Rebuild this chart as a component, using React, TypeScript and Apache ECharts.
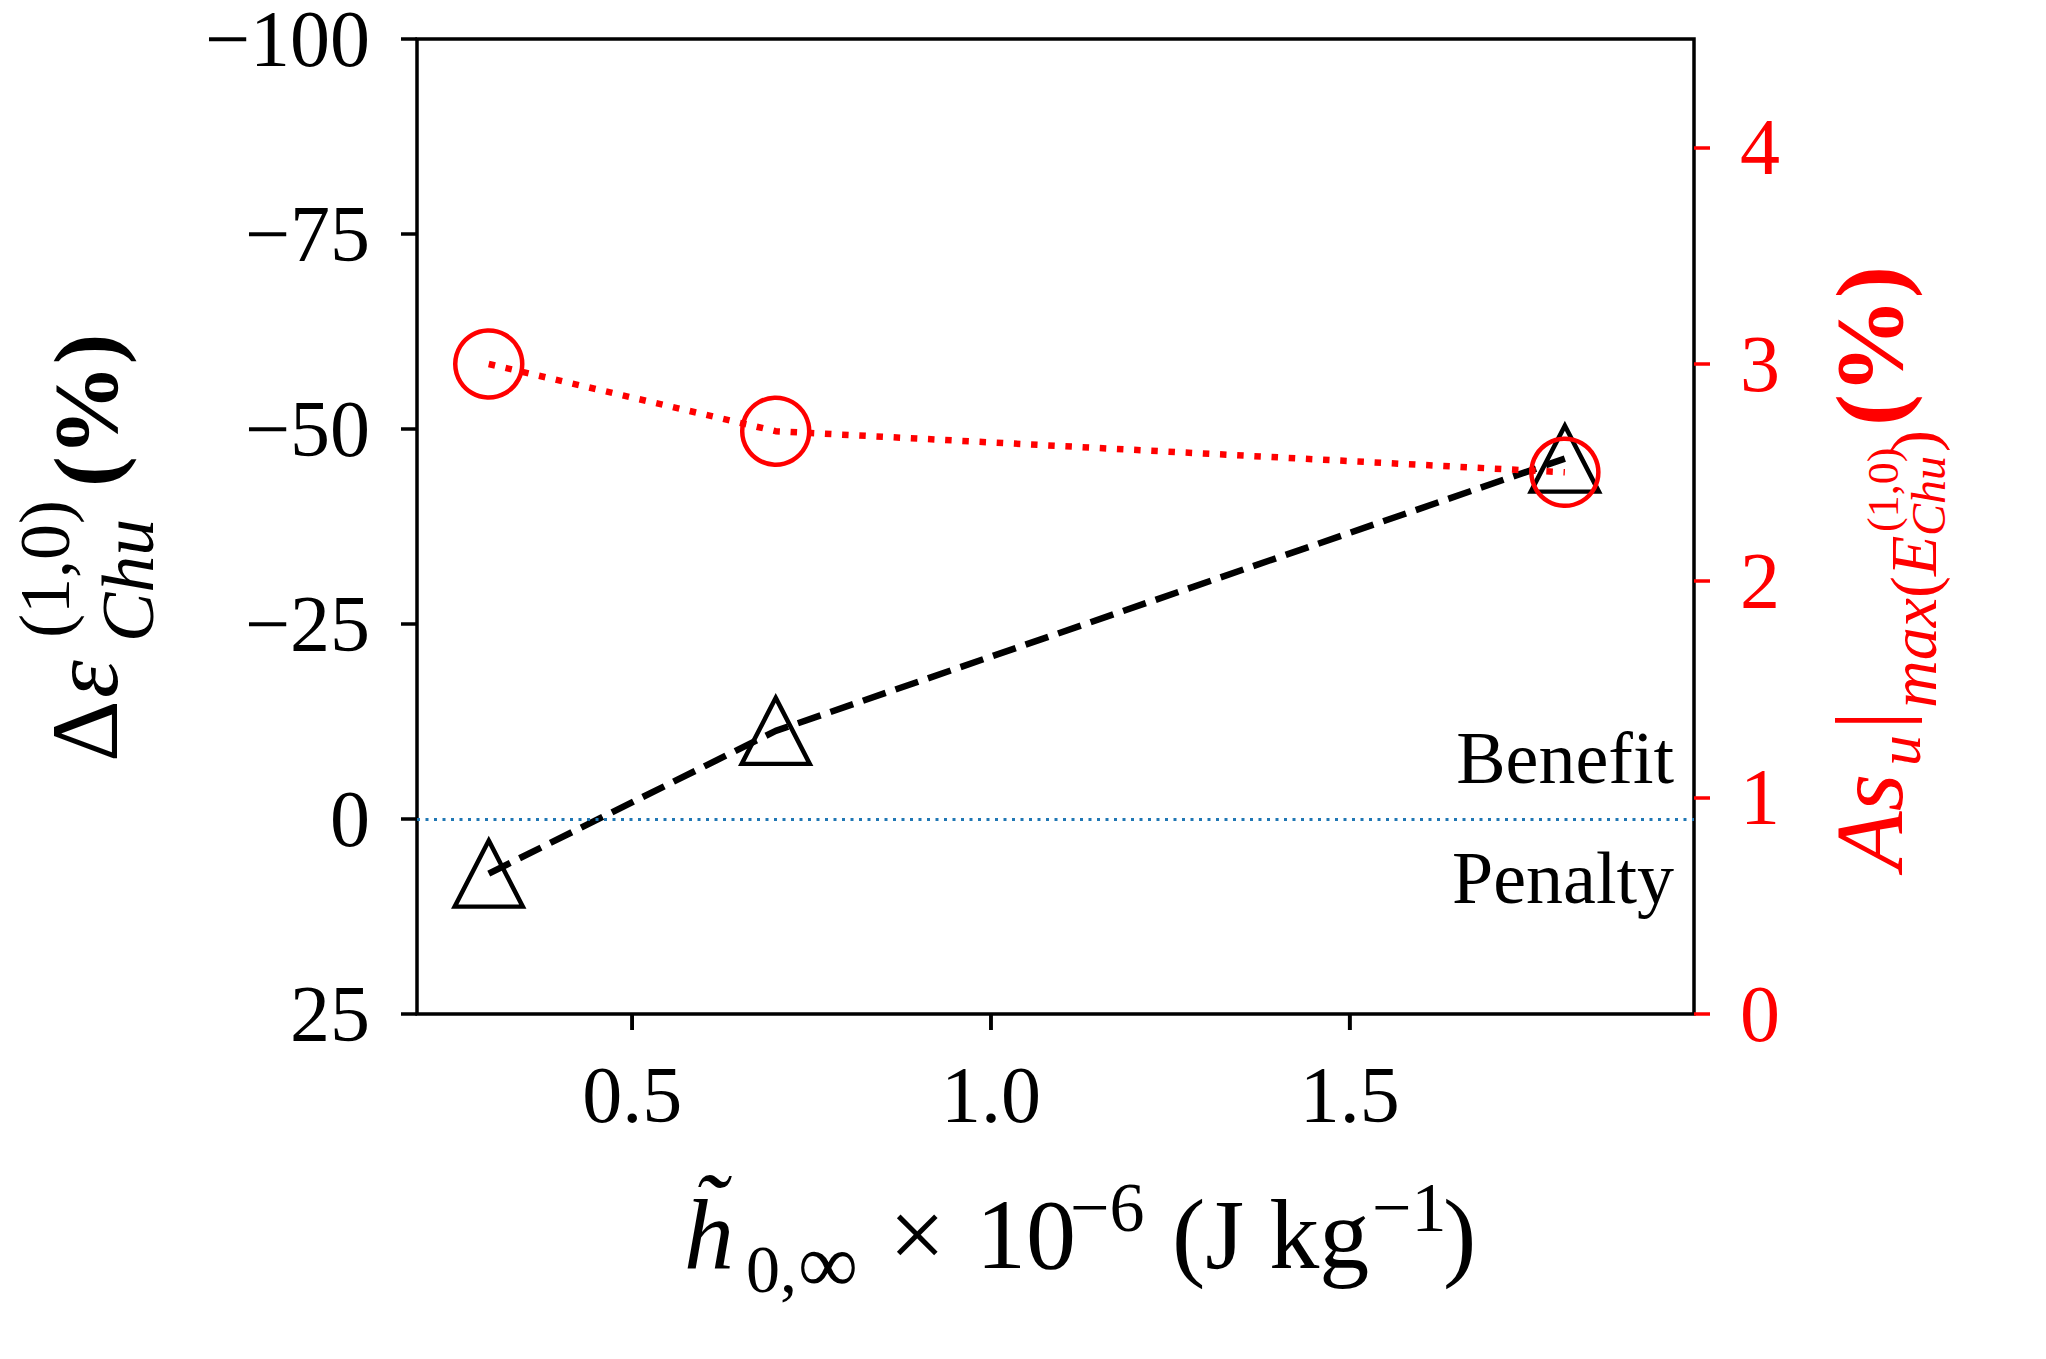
import { useEffect, useRef } from "react";
import * as echarts from "echarts";

// data
const xValues = [0.3, 0.7, 1.8];
const deltaEpsilon = [7.0, -11.3, -46.2];
const asuMax = [3.0, 2.69, 2.5];
const xTickValues = [0.5, 1.0, 1.5];
const rightTickValues = [0, 1, 2, 3, 4];
const zeroLevel = 0;

const FONT = '"Liberation Serif", "Times New Roman", serif';
const RED = "#ff0000";
const BLUE = "#1f77b4";

// svg text is drawn with dominant-baseline central, ~0.3375em above the alphabetic line
const centerOf = (baseline: number, size: number) => baseline - 0.3375 * size;

type Part = [string, number, number, number, string?, string?];

function textPart(
  [text, x, baseline, size, fontStyle = "normal", fontWeight = "normal"]: Part,
  fill: string
) {
  return {
    type: "text",
    x,
    y: centerOf(baseline, size),
    silent: true,
    style: {
      text,
      fontSize: size,
      lineHeight: Math.round(size * 0.8),
      fontFamily: FONT,
      fontStyle,
      fontWeight,
      fill,
      align: "left",
      textAlign: "left",
      verticalAlign: "middle"
    }
  };
}

// x title: h~_{0,inf} x 10^{-6} (J kg^{-1}); the tilde sits in the same element as h
const xTitleParts: Part[] = [
  ["0,", 746, 1292, 68],
  ["\u221E", 798, 1292, 84],
  ["\u00D7", 889, 1268, 100],
  ["10", 976, 1268, 100],
  ["\u22126", 1070, 1231, 70],
  ["(J kg", 1172, 1268, 100],
  ["\u22121", 1372, 1231, 70],
  [")", 1443, 1268, 100]
];

// left title, local frame of a group rotated 90deg, origin at the Delta baseline
const leftTitleParts: Part[] = [
  ["\u0394", 0, 0, 96],
  ["\u03B5", 64, 0, 96, "italic"],
  ["(1,0)", 124, -48, 72],
  ["Chu", 120, 36, 74, "italic"],
  ["(%)", 275, 0, 92, "normal", "bold"]
];

// right title: As_u |_{max(E^{(1,0)}_{Chu})} (%)
const rightTitleParts: Part[] = [
  ["As", 0, 0, 96, "italic"],
  ["u", 104, 18, 62, "italic"],
  ["|", 140, 0, 96],
  ["max", 162, 34, 66, "italic"],
  ["(", 272, 34, 66],
  ["E", 294, 34, 66, "italic"],
  ["(1,0)", 338, -4, 44],
  ["Chu", 334, 43, 48, "italic"],
  [")", 418, 34, 66],
  ["(%)", 444, 0, 96, "normal", "bold"]
];

const regionLabels = ["Benefit", "Penalty"];

export default function App() {
  const ref = useRef<HTMLDivElement | null>(null);

  useEffect(() => {
    if (!ref.current) return undefined;
    const chart = echarts.init(ref.current, undefined, { renderer: "svg" });

    const tickFont = { fontFamily: FONT, fontSize: 80 };
    const tickLine = { color: "#000", width: 3.5 };
    const tickLength = 16;

    const option: any = {
      animation: false,
      backgroundColor: "#ffffff",
      grid: {
        left: 417,
        top: 39,
        width: 1277,
        height: 975,
        show: true,
        borderColor: "#000",
        borderWidth: 3.5,
        backgroundColor: "transparent",
        containLabel: false,
        outerBoundsMode: "none"
      },
      xAxis: {
        type: "value",
        position: "bottom",
        min: 0.2,
        max: 1.98,
        axisLine: { show: false, onZero: false },
        splitLine: { show: false },
        axisTick: {
          show: true,
          length: tickLength,
          lineStyle: tickLine,
          customValues: xTickValues
        },
        axisLabel: {
          ...tickFont,
          lineHeight: 80,
          color: "#000",
          margin: 41,
          customValues: xTickValues,
          formatter: (v: number) => v.toFixed(1)
        }
      },
      yAxis: [
        {
          type: "value",
          position: "left",
          inverse: true,
          min: -100,
          max: 25,
          interval: 25,
          axisLine: { show: false, onZero: false },
          splitLine: { show: false },
          axisTick: {
            show: true,
            length: tickLength,
            lineStyle: tickLine
          },
          axisLabel: {
            ...tickFont,
            lineHeight: 64,
            color: "#000",
            margin: 47,
            formatter: (v: number) =>
              v < 0 ? "\u2212" + String(Math.abs(v)) : String(v)
          }
        },
        {
          type: "value",
          position: "right",
          min: 0,
          max: 4.5,
          axisLine: { show: false, onZero: false },
          splitLine: { show: false },
          axisTick: {
            show: true,
            length: tickLength,
            lineStyle: { color: RED, width: 3.5 },
            customValues: rightTickValues
          },
          axisLabel: {
            ...tickFont,
            lineHeight: 64,
            color: RED,
            margin: 46,
            customValues: rightTickValues,
            formatter: (v: number) => String(v)
          }
        }
      ],
      series: [
        {
          type: "line",
          yAxisIndex: 0,
          data: xValues.map((x, i) => [x, deltaEpsilon[i]]),
          symbol: "triangle",
          symbolSize: [68, 66],
          showAllSymbol: true,
          itemStyle: {
            color: "rgba(0,0,0,0)",
            borderColor: "#000",
            borderWidth: 4.5
          },
          lineStyle: { color: "#000", width: 6.5, type: [24, 10.4] },
          emphasis: { disabled: true },
          z: 3,
          markLine: {
            silent: true,
            symbol: ["none", "none"],
            label: { show: false },
            lineStyle: { color: BLUE, width: 3, type: [3, 5.5] },
            emphasis: { disabled: true },
            data: [{ yAxis: zeroLevel }]
          }
        },
        {
          type: "line",
          yAxisIndex: 1,
          data: xValues.map((x, i) => [x, asuMax[i]]),
          symbol: "circle",
          symbolSize: 67,
          showAllSymbol: true,
          itemStyle: {
            color: "rgba(0,0,0,0)",
            borderColor: RED,
            borderWidth: 4.5
          },
          lineStyle: { color: RED, width: 6.5, type: [6.5, 10.7] },
          emphasis: { disabled: true },
          z: 4
        },
        {
          // outward tick marks under the bottom edge, placed by the x scale
          type: "custom",
          yAxisIndex: 1,
          silent: true,
          clip: false,
          z: 10,
          data: xTickValues.map(v => [v, 0]),
          renderItem: (_params: any, api: any) => {
            const p = api.coord([api.value(0), api.value(1)]);
            return {
              type: "rect",
              shape: { x: p[0] - 1.75, y: p[1], width: 3.5, height: tickLength },
              style: { fill: "#000" }
            };
          }
        }
      ],
      graphic: [
        {
          type: "text",
          x: 709,
          y: 1268 - 0.3375 * 100 - 12.5,
          silent: true,
          style: {
            text: "\u02DC\nh",
            fontSize: 100,
            lineHeight: 25,
            fontFamily: FONT,
            fontStyle: "italic",
            fill: "#000",
            align: "center",
            textAlign: "center",
            verticalAlign: "middle"
          }
        },
        ...xTitleParts.map(p => textPart(p, "#000")),
        {
          type: "group",
          x: 117,
          y: 762,
          rotation: Math.PI / 2,
          children: leftTitleParts.map(p => textPart(p, "#000"))
        },
        {
          type: "group",
          x: 1902,
          y: 870,
          rotation: Math.PI / 2,
          children: rightTitleParts.map(p => textPart(p, RED))
        },
        ...regionLabels.map((label, i) => ({
          type: "text",
          x: 1674,
          y: centerOf(i === 0 ? 783 : 903, 74),
          silent: true,
          style: {
            text: label,
            fontSize: 74,
            fontFamily: FONT,
            fill: "#000",
            align: "right",
            textAlign: "right",
            verticalAlign: "middle"
          }
        }))
      ]
    };

    chart.setOption(option);
    return () => {
      chart.dispose();
    };
  }, []);

  return (
    <div
      ref={ref}
      style={{ position: "fixed", left: 0, top: 0, width: 2046, height: 1359 }}
    />
  );
}
